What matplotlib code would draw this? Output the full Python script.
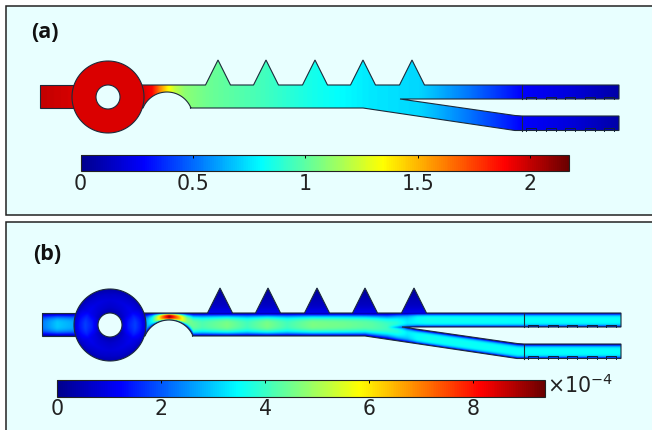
import numpy as np
import matplotlib
matplotlib.use('Agg')
import matplotlib.pyplot as plt
from matplotlib.path import Path
from matplotlib.patches import PathPatch, Rectangle
from matplotlib.colors import LinearSegmentedColormap, Normalize
from matplotlib.cm import ScalarMappable

# colorbar data
ticks_a = [0, 0.5, 1, 1.5, 2]
tick_labels_a = ['0', '0.5', '1', '1.5', '2']
vmax_a = 2.17
ticks_b = [0, 2, 4, 6, 8]
tick_labels_b = ['0', '2', '4', '6', '8']
vmax_b = 9.38

# panel (a): value along the channel
xs_a = [40, 73, 144, 152, 160, 167, 175, 185, 210, 260, 310, 370, 420, 470, 522, 570, 619]
vals_a = [2.0, 1.96, 1.95, 1.88, 1.6, 1.38, 1.2, 1.1, 1.03, 0.95, 0.85, 0.76, 0.72, 0.52, 0.28, 0.2, 0.07]
ring_a = 1.95

# panel (b): peak value along the channel
xs_b = [40, 55, 73, 143, 150, 160, 167, 175, 185, 200, 225, 245, 265, 285, 310, 340, 370, 395, 405, 425, 522, 619]
vals_b = [2.3, 3.0, 2.7, 2.6, 3.6, 7.0, 9.0, 7.0, 4.6, 4.2, 4.6, 4.1, 4.6, 4.1, 4.6, 4.5, 4.3, 3.9, 3.4, 3.6, 3.5, 3.5]
# ring of panel (b): level by radius, gain by direction
ring_r = [12, 18, 25, 31, 36]
ring_v = [0.45, 0.85, 1.05, 0.8, 0.4]
ring_cos = [0, 0.6, 0.85, 1]
ring_gain = [0.8, 0.9, 1.05, 1.7]

BG = '#E8FFFF'
LINE = '#1c2a3a'
cmap = LinearSegmentedColormap.from_list('comsol', [
    (0.0, (0, 0, 0.55)), (0.13, (0, 0, 1)), (0.37, (0, 1, 1)),
    (0.62, (1, 1, 0)), (0.87, (1, 0, 0)), (1.0, (0.42, 0, 0))])

fig = plt.figure(figsize=(6.52, 4.30), dpi=100, facecolor='white')
ax = fig.add_axes([0, 0, 1, 1])
ax.set_xlim(0, 652)
ax.set_ylim(430, 0)
ax.axis('off')

# panel backgrounds
ax.add_patch(Rectangle((6, 6), 660, 208.5, fc=BG, ec='#222222', lw=1.1))
ax.add_patch(Rectangle((6, 222), 660, 230, fc=BG, ec='#222222', lw=1.1))
ax.text(31, 32, '(a)', fontsize=15.5, fontweight='bold', family='Open Sans', va='center', color='#111111')
ax.text(33, 254, '(b)', fontsize=15.5, fontweight='bold', family='Open Sans', va='center', color='#111111')

apex_x = [218, 266, 315, 363, 412]


def channel_path(dx, dy):
    pts = [(140, 85)]
    for a in apex_x:
        pts += [(a - 12.5, 85), (a, 60), (a + 12.5, 85)]
    pts += [(619, 85), (619, 99), (400, 99), (515, 115.5), (522, 116), (619, 116),
            (619, 130.5), (515, 130.5), (363, 108), (190, 108)]
    t = np.linspace(np.arctan2(-10, 23), np.arctan2(-10, -24), 30)
    pts += [(167 + 26 * np.cos(a), 118 + 26 * np.sin(a)) for a in t]
    pts += [(140, 108), (140, 85)]
    pts = [(x + dx, y + dy) for x, y in pts]
    return Path(pts, closed=True)


def ring_path(dx, dy):
    t = np.linspace(0, 2 * np.pi, 90)
    outer = np.c_[108 + dx + 36 * np.cos(t), 97 + dy + 36 * np.sin(t)]
    inner = np.c_[108 + dx + 12 * np.cos(t[::-1]), 97 + dy + 12 * np.sin(t[::-1])]
    return Path.make_compound_path(Path(outer, closed=True), Path(inner, closed=True))


def inlet_path(dx, dy):
    return Path([(40 + dx, 85 + dy), (75 + dx, 85 + dy), (75 + dx, 108 + dy), (40 + dx, 108 + dy), (40 + dx, 85 + dy)], closed=True)


def field_a(X, Y):
    return np.interp(X, xs_a, vals_a)


def profile(Y, top, bot, power):
    u = (Y - (top + bot) / 2) / ((bot - top) / 2)
    return np.clip(1 - np.abs(u) ** power, 0, 1)


def field_b(X, Y):
    # single channel up to the split
    top = np.full(X.shape, 85.0)
    bot = np.interp(X, [40, 363, 515, 619], [108, 108, 130.5, 130.5])
    arc = np.abs(X - 167) < 24
    bot[arc] = 118 - np.sqrt(26 ** 2 - (X[arc] - 167) ** 2)
    main = profile(Y, top, bot, 3)

    # two branches after it
    inner = np.interp(X, [400, 515, 522, 619], [99, 115.5, 116, 116])
    split = (99 + inner) / 2
    up = Y < split
    btop = np.where(up, 85.0, inner)
    bbot = np.where(up, 99.0, bot)
    branch = profile(Y, btop, bbot, 4)

    w = np.clip((X - 385) / 30, 0, 1)
    v = np.interp(X, xs_b, vals_b) * ((1 - w) * main + w * branch)

    # the teeth are almost stagnant
    tooth = Y < 85
    v[tooth] = np.interp(85 - Y[tooth], [0, 8, 25], [1.1, 0.6, 0.15])
    return v


def ring_field(X, Y, kind):
    if kind == 'a':
        return np.full(X.shape, ring_a)
    r = np.hypot(X - 108, Y - 97)
    c = np.abs(X - 108) / np.maximum(r, 1)
    return np.interp(r, ring_r, ring_v) * np.interp(c, ring_cos, ring_gain)


def draw_device(field, kind, dx, dy, vmax):
    xx = np.arange(30, 630, 0.5)
    yy = np.arange(50, 140, 0.5)
    X, Y = np.meshgrid(xx, yy)
    ext = [30 + dx, 630 + dx, 140 + dy, 50 + dy]
    Z = field(X, Y)
    R = ring_field(X, Y, kind)
    for path, data, z in [(inlet_path(dx, dy), Z, 2), (channel_path(dx, dy), Z, 2), (ring_path(dx, dy), R, 4)]:
        im = ax.imshow(data, extent=ext, cmap=cmap, vmin=0, vmax=vmax, aspect='auto', zorder=z, interpolation='bilinear')
        p = PathPatch(path, fc='none', ec=LINE, lw=0.8, zorder=z + 1)
        ax.add_patch(p)
        im.set_clip_path(p)
    # interface line and the small outlet steps
    for y0, y1 in [(85, 99), (116, 130.5)]:
        ax.plot([522 + dx, 522 + dx], [y0 + dy, y1 + dy], color=LINE, lw=0.8, zorder=6)
    for base in (99, 130.5):
        for s in [526, 545.5, 565, 584.5, 604]:
            ax.plot(np.array([s, s, s + 10, s + 10]) + dx, np.array([base, base - 2.5, base - 2.5, base]) + dy,
                    color='#10203a', lw=0.7, zorder=6)
    ax.set_xlim(0, 652)
    ax.set_ylim(430, 0)


draw_device(field_a, 'a', 0, 0, vmax_a)
draw_device(field_b, 'b', 2, 228, vmax_b)


def colorbar(x0, x1, y0, y1, vmax, ticks, labels):
    cax = fig.add_axes([x0 / 652, 1 - y1 / 430, (x1 - x0) / 652, (y1 - y0) / 430])
    sm = ScalarMappable(norm=Normalize(0, vmax), cmap=cmap)
    cb = fig.colorbar(sm, cax=cax, orientation='horizontal', ticks=ticks)
    cb.ax.set_xticklabels(labels, fontsize=14.8, color='#222222')
    cb.ax.tick_params(axis='x', top=True, bottom=False, labelbottom=True, direction='in', length=2, width=0.7, pad=2)
    cb.outline.set_linewidth(0.8)
    cb.outline.set_edgecolor('#222222')
    return cb


colorbar(80.5, 568.5, 154.5, 171, vmax_a, ticks_a, tick_labels_a)
colorbar(57, 545, 380, 396.5, vmax_b, ticks_b, tick_labels_b)
ax.text(547, 385, r'$\times10^{-4}$', fontsize=14.8, color='#222222', va='center')

fig.savefig('out.png', dpi=100)
